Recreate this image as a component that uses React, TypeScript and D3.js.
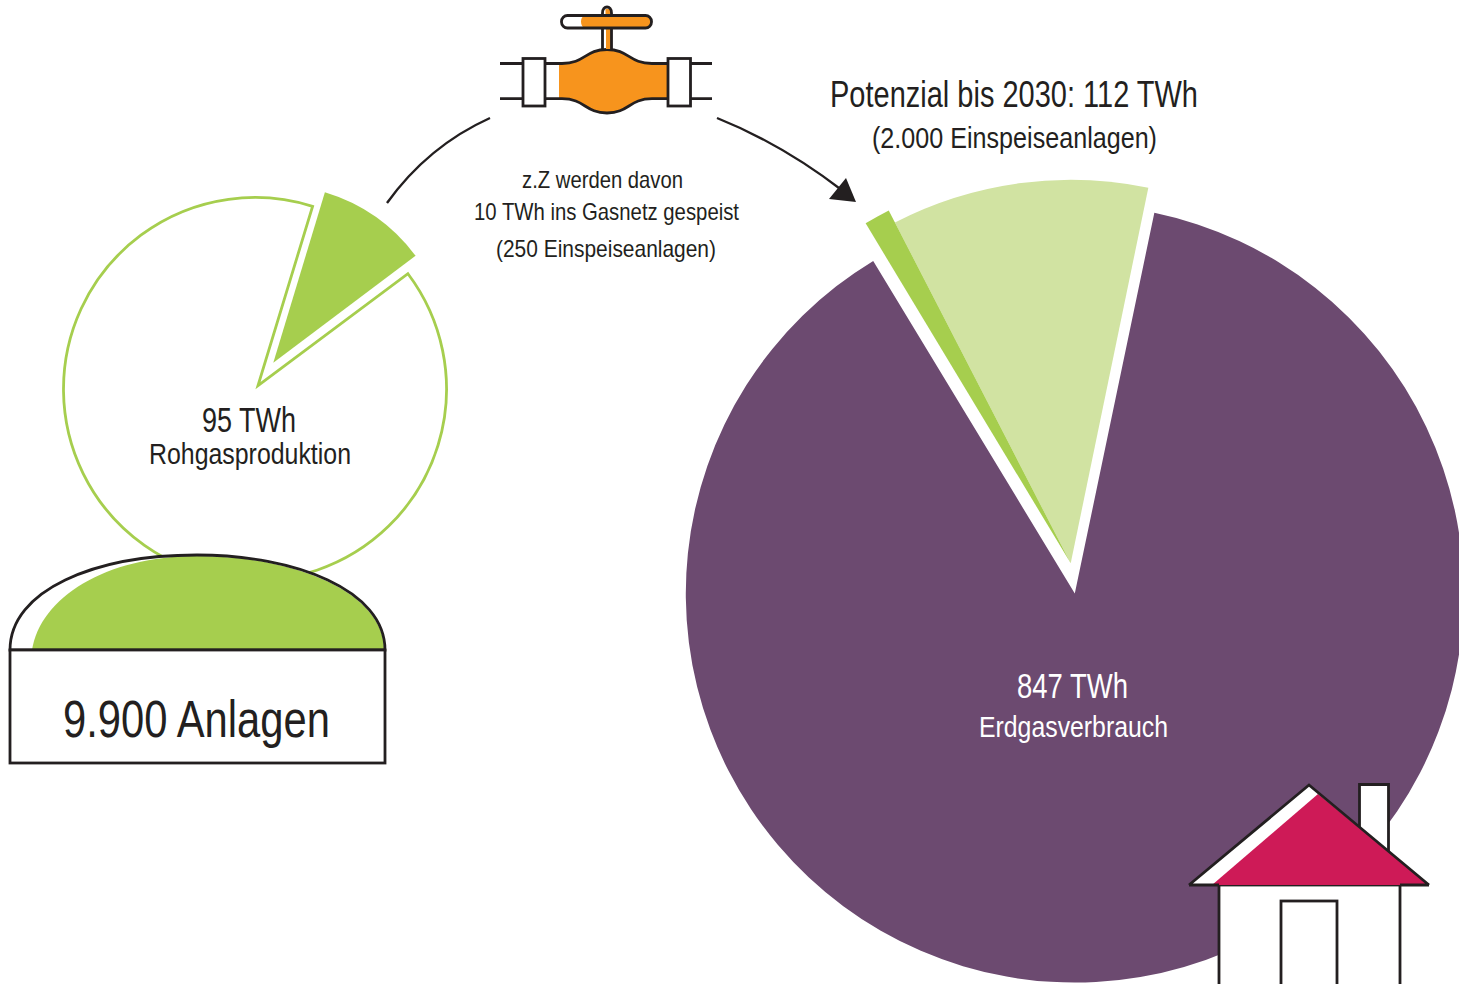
import React from "react";
import * as d3 from "d3";

// Data
const rohgasValues = [10, 85];
const gasConsumption = [847, 112];
const potentialValues = [10, 102];
const labelRohgas = ["95 TWh", "Rohgasproduktion"];
const labelConsumption = ["847 TWh", "Erdgasverbrauch"];
const labelPotential = ["Potenzial bis 2030: 112 TWh", "(2.000 Einspeiseanlagen)"];
const labelFeedIn = ["z.Z werden davon", "10 TWh ins Gasnetz gespeist", "(250 Einspeiseanlagen)"];
const labelPlants = "9.900 Anlagen";

const INK = "#231F20";
const GREEN = "#A6CE4E";
const LIGHT = "#D1E3A2";
const PURPLE = "#6C4A70";
const ORANGE = "#F7941D";
const RED = "#CE1A57";
const FONT = "'Liberation Sans Narrow', 'Liberation Sans', sans-serif";
const deg = (d: number) => (d * Math.PI) / 180;

function T({ x0, x1, y, size, fill = INK, children }: any) {
  return (
    <text
      x={x0}
      y={y}
      fontFamily={FONT}
      fontSize={size}
      fill={fill}
      textLength={x1 - x0}
      lengthAdjust="spacingAndGlyphs"
    >
      {children}
    </text>
  );
}

export default function App() {
  const arc = d3.arc<any>().innerRadius(0);

  // large pie
  const bigCx = 1074.8, bigCy = 593.6, bigR = 389;
  const bigPie = d3.pie<number>().sort(null).startAngle(deg(11.8)).endAngle(deg(11.8 + 358.9))(gasConsumption);
  const purplePath = arc({ ...bigPie[0], outerRadius: bigR }) as string;

  // exploded potential slices
  const potCx = 1070.7, potCy = 563.3;
  const potPie = d3.pie<number>().sort(null).startAngle(deg(-31.1)).endAngle(deg(11.68))(potentialValues);
  const potGreen = arc({ ...potPie[0], outerRadius: 397 }) as string;
  const potLight = arc({ ...potPie[1], outerRadius: 383.5 }) as string;

  // small pie
  const smallPie = d3.pie<number>().sort(null).startAngle(deg(16.85)).endAngle(deg(16.85 + 344))(rohgasValues);
  const wedge = arc({ ...smallPie[0], outerRadius: 178 }) as string;

  const cx = 255, cy = 389, r = 191.5;
  const a0 = deg(53 - 90), a1 = deg(17.5 - 90 + 360);
  const ring = d3.path();
  ring.moveTo(258, 385.6);
  ring.lineTo(cx + r * Math.cos(a0), cy + r * Math.sin(a0));
  ring.arc(cx, cy, r, a0, a1);
  ring.closePath();

  const curveL = d3.path();
  curveL.moveTo(387, 203);
  curveL.quadraticCurveTo(428, 146, 490, 118);
  const curveR = d3.path();
  curveR.moveTo(717, 118);
  curveR.quadraticCurveTo(782, 144, 843, 191);

  return (
    <svg
      width={1459}
      height={984}
      viewBox="0 0 1459 984"
      style={{ position: "absolute", left: 0, top: 0, display: "block", background: "#fff" }}
    >
      {/* Large pie */}
      <path d={purplePath} transform={`translate(${bigCx},${bigCy})`} fill={PURPLE} />
      <path d={potLight} transform={`translate(${potCx},${potCy})`} fill={LIGHT} />
      <path d={potGreen} transform={`translate(${potCx},${potCy})`} fill={GREEN} />

      {/* Small pie */}
      <path d={ring.toString()} fill="#fff" stroke={GREEN} strokeWidth={2.8} strokeMiterlimit={10} />
      <path d={wedge} transform="translate(273.3,362.7)" fill={GREEN} />

      {/* Curved arrows */}
      <path d={curveL.toString()} fill="none" stroke={INK} strokeWidth={2.4} />
      <path d={curveR.toString()} fill="none" stroke={INK} strokeWidth={2.4} />
      <polygon points="846,178 829,199 856,202" fill={INK} />

      {/* Valve */}
      <g stroke={INK} strokeWidth={2.8} fill="none">
        <path d="M500,63.5H523M500,98.7H523M691,63.5H712M691,98.7H712" />
        <path
          d="M559,63.5H562C585,63.5 585,49.5 607,49.5C629,49.5 629,63.5 652,63.5H668V98.7H652C629,98.7 629,113 607,113C585,113 585,98.7 562,98.7H559Z"
          fill={ORANGE}
          stroke="none"
        />
        <path d="M545,63.5H562C585,63.5 585,49.5 607,49.5C629,49.5 629,63.5 652,63.5H668M545,98.7H562C585,98.7 585,113 607,113C629,113 629,98.7 652,98.7H668" />
        <rect x={523} y={58.5} width={22} height={47.5} fill="#fff" />
        <rect x={668} y={58.5} width={22.5} height={47.5} fill="#fff" />
        <rect x={606} y={28} width={6} height={21} fill={ORANGE} stroke="none" />
        <rect x={605.5} y={9} width={5.5} height={7} fill={ORANGE} stroke="none" />
        <path d="M602.5,49V13C602.5,5 611.5,5 611.5,13V49" />
        <rect x={561.5} y={15.5} width={90} height={12.5} rx={6} fill="#fff" stroke="none" />
        <path d="M584,15.5H645.5A6.2,6.2 0 0 1 645.5,28H584C580,25 580,18 584,15.5Z" fill={ORANGE} stroke="none" />
        <rect x={561.5} y={15.5} width={90} height={12.5} rx={6} />
      </g>

      {/* Biogas plant */}
      <path d="M10,650C10,590 95,555 197,555C295,555 385,590 385,650Z" fill="#fff" />
      <path d="M32,650C40,598 105,556 197,556C295,556 384,592 384,650Z" fill={GREEN} />
      <path d="M10,650C10,590 95,555 197,555C295,555 385,590 385,650Z" fill="none" stroke={INK} strokeWidth={2.8} />
      <rect x={10} y={650} width={375} height={113} fill="#fff" stroke={INK} strokeWidth={2.8} />

      {/* House */}
      <path d="M1359.5,830V784.5H1388.5V855Z" fill="#fff" stroke={INK} strokeWidth={2.8} />
      <rect x={1219} y={885} width={181} height={102} fill="#fff" stroke={INK} strokeWidth={2.8} />
      <rect x={1281} y={901} width={56} height={86} fill="#fff" stroke={INK} strokeWidth={2.8} />
      <path d="M1189,885L1309,785L1429,885Z" fill="#fff" />
      <path d="M1212,885L1318,794L1429,885Z" fill={RED} />
      <path d="M1189,885L1309,785L1429,885M1189,885H1219M1400,885H1429" fill="none" stroke={INK} strokeWidth={2.8} />

      {/* Labels */}
      <T x0={830} x1={1198} y={107} size={37}>{labelPotential[0]}</T>
      <T x0={872} x1={1157} y={148} size={29}>{labelPotential[1]}</T>
      <T x0={522} x1={683} y={188} size={24}>{labelFeedIn[0]}</T>
      <T x0={474} x1={739} y={220} size={24}>{labelFeedIn[1]}</T>
      <T x0={496} x1={716} y={257} size={24}>{labelFeedIn[2]}</T>
      <T x0={202} x1={296} y={432} size={35}>{labelRohgas[0]}</T>
      <T x0={149} x1={351} y={464} size={29}>{labelRohgas[1]}</T>
      <T x0={1017} x1={1128} y={698} size={35} fill="#fff">{labelConsumption[0]}</T>
      <T x0={979} x1={1168} y={737} size={29} fill="#fff">{labelConsumption[1]}</T>
      <T x0={63} x1={330} y={737} size={52}>{labelPlants}</T>
    </svg>
  );
}
